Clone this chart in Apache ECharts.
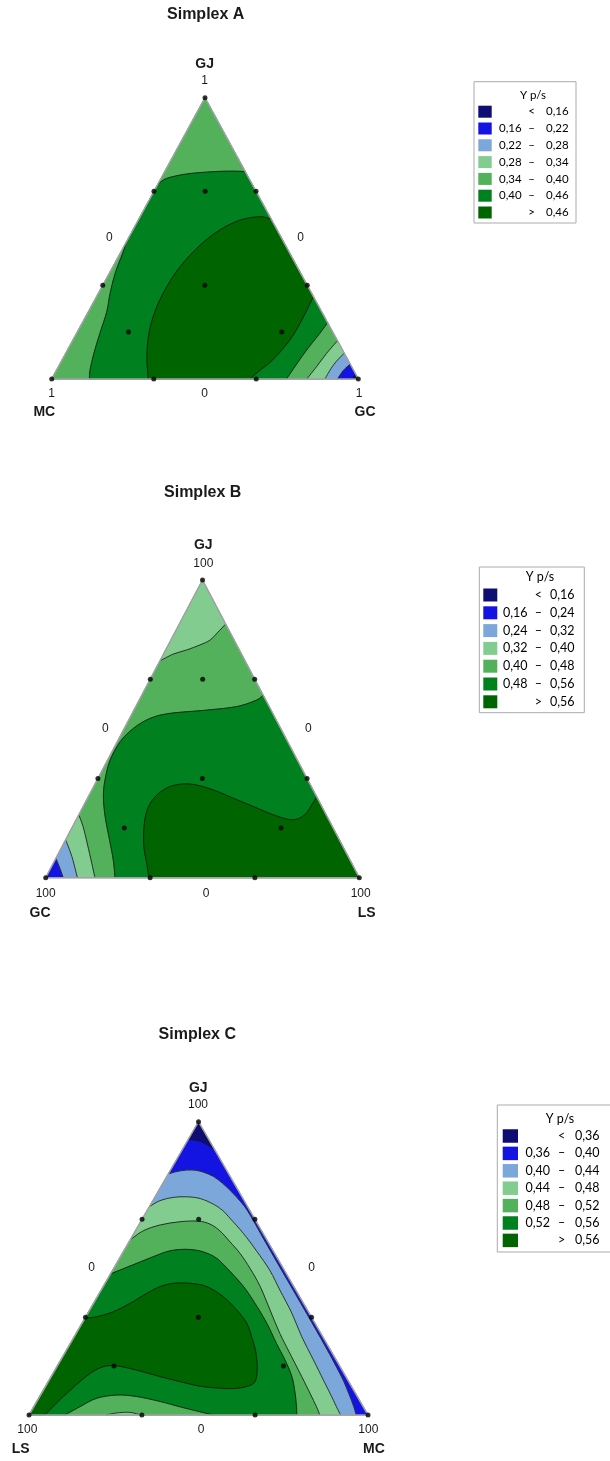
<!DOCTYPE html>
<html><head><meta charset="utf-8">
<script src="https://cdn.jsdelivr.net/npm/echarts@6.0.0/dist/echarts.min.js"></script>
<style>html,body{margin:0;padding:0;background:#fff}#c{width:610px;height:1461px}</style>
</head><body><div id="c"></div>
<script>
// ---------- data (mixture compositions as [GJ fraction, right-vertex fraction]) ----------
const bandColors = ['#0d0d72', '#1313e2', '#7ca7da', '#82cc90', '#53b05b', '#00801f', '#006500'];
const legendTitle = 'Y p/s';
const legendA = [['<','0,16'],['0,16','0,22'],['0,22','0,28'],['0,28','0,34'],['0,34','0,40'],['0,40','0,46'],['>','0,46']];
const legendB = [['<','0,16'],['0,16','0,24'],['0,24','0,32'],['0,32','0,40'],['0,40','0,48'],['0,48','0,56'],['>','0,56']];
const legendC = [['<','0,36'],['0,36','0,40'],['0,40','0,44'],['0,44','0,48'],['0,48','0,52'],['0,52','0,56'],['>','0,56']];
const titles = ['Simplex A', 'Simplex B', 'Simplex C'];
const vertexNamesA = ['GJ', 'MC', 'GC'];
const vertexNamesB = ['GJ', 'GC', 'LS'];
const vertexNamesC = ['GJ', 'LS', 'MC'];
const vertexTicksA = ['1', '1', '1'];
const vertexTicksBC = ['100', '100', '100'];
const midTick = '0';
const designPoints = [[1,0],[0.667,0],[0.333,0],[0,0],[0,0.333],[0,0.667],[0,1],[0.333,0.667],[0.667,0.333],
  [0.333,0.333],[0.667,0.167],[0.167,0.167],[0.167,0.667]];

// Simplex A contour lines
const A016 = [[0.018,0.982],[0,0.980]];
const A022 = [[0.053,0.947],[0.030,0.936],[0,0.932]];
const A028 = [[0.092,0.908],[0.050,0.894],[0,0.891]];
const A034 = [[0.136,0.864],[0.091,0.851],[0.044,0.842],[0,0.832]];
const A040right = [[0.200,0.800],[0.156,0.792],[0.103,0.780],[0.050,0.772],[0,0.766]];
const A040top = [[0.692,0],[0.713,0.018],[0.729,0.076],[0.737,0.158],[0.739,0.223],[0.737,0.263]];
const A040left = [[0.485,0],[0.447,0.008],[0.376,0.019],[0.305,0.038],[0.239,0.060],[0.162,0.076],[0.091,0.092],[0.032,0.109],[0,0.123]];
const A046a = [[0,0.315],[0.079,0.271],[0.162,0.236],[0.239,0.217],[0.316,0.211],[0.399,0.219],[0.476,0.246],[0.530,0.284],[0.565,0.332],[0.577,0.391],[0.568,0.432]];
const A046b = [[0.293,0.707],[0.257,0.709],[0.210,0.711],[0.156,0.710],[0.109,0.701],[0.062,0.684],[0.026,0.661],[0,0.647]];

// Simplex B contour lines
const B024 = [[0.065,0],[0.031,0.030],[0,0.056]];
const B032 = [[0.127,0],[0.071,0.048],[0,0.101]];
const B040low = [[0.211,0],[0.171,0.034],[0.115,0.075],[0.048,0.123],[0,0.157]];
const B040top = [[0.728,0],[0.751,0.031],[0.765,0.067],[0.782,0.101],[0.798,0.125],[0.823,0.136],[0.852,0.148]];
const B048 = [[0.614,0.386],[0.597,0.374],[0.575,0.322],[0.563,0.232],[0.552,0.120],[0.535,0.065],[0.502,0.029],[0.457,0.009],[0.395,0.008],[0.328,0.025],[0.272,0.048],[0.205,0.087],[0.127,0.140],[0.059,0.186],[0,0.221]];
const B056 = [[0,0.329],[0.048,0.298],[0.104,0.261],[0.171,0.228],[0.227,0.210],[0.272,0.213],[0.304,0.239],[0.315,0.282],[0.311,0.326],[0.295,0.387],[0.267,0.465],[0.239,0.543],[0.211,0.621],[0.196,0.676],[0.198,0.706],[0.216,0.722],[0.244,0.726],[0.272,0.728]];

// Simplex C contour lines
const C036 = [[0.940,0],[0.935,0.032],[0.926,0.056],[0.915,0.077],[0.906,0.094]];
const C040 = [[0.822,0],[0.830,0.021],[0.835,0.048],[0.834,0.078],[0.826,0.106],[0.813,0.138],[0.790,0.176],[0.761,0.217],[0.727,0.261],[0.685,0.308],[0.574,0.418],[0.460,0.532],[0.347,0.645],[0.233,0.758],[0.131,0.856],[0.074,0.906],[0.028,0.944],[0,0.965]];
const C044 = [[0.710,0],[0.731,0.021],[0.742,0.055],[0.744,0.093],[0.738,0.136],[0.719,0.184],[0.697,0.223],[0.668,0.261],[0.619,0.323],[0.559,0.392],[0.492,0.465],[0.426,0.527],[0.347,0.602],[0.267,0.671],[0.188,0.745],[0.119,0.809],[0.074,0.851],[0.028,0.893],[0,0.919]];
const C048 = [[0.597,0],[0.628,0.023],[0.648,0.063],[0.659,0.116],[0.661,0.168],[0.651,0.208],[0.628,0.249],[0.591,0.297],[0.551,0.347],[0.500,0.402],[0.438,0.463],[0.358,0.532],[0.278,0.601],[0.199,0.675],[0.131,0.739],[0.074,0.792],[0.028,0.834],[0,0.858]];
const C048b = [[0,0.227],[0.007,0.255],[0.009,0.293],[0,0.331]];
const C052top = [[0.481,0],[0.494,0.021],[0.517,0.059],[0.540,0.097],[0.557,0.128],[0.564,0.159],[0.564,0.198],[0.555,0.239],[0.534,0.287],[0.489,0.349],[0.438,0.414],[0.381,0.476],[0.313,0.545],[0.244,0.608],[0.188,0.661],[0.131,0.710],[0.074,0.748],[0.028,0.775],[0,0.790]];
const C052low = [[0,0.106],[0.028,0.136],[0.057,0.171],[0.068,0.225],[0.063,0.286],[0.046,0.364],[0.028,0.431],[0.011,0.499],[0,0.544]];
const C056 = [[0.330,0],[0.335,0.032],[0.352,0.073],[0.381,0.108],[0.415,0.140],[0.438,0.168],[0.449,0.201],[0.449,0.251],[0.438,0.305],[0.403,0.372],[0.358,0.434],[0.313,0.486],[0.267,0.523],[0.222,0.557],[0.176,0.585],[0.133,0.605],[0.110,0.609],[0.097,0.594],[0.090,0.558],[0.092,0.508],[0.098,0.456],[0.111,0.400],[0.131,0.321],[0.153,0.241],[0.168,0.171],[0.163,0.133],[0.133,0.104],[0.063,0.070],[0,0.047]];

// ---------- construction ----------
const TOP = [1,0], LEFT = [0,0], RIGHT = [0,1];
const rev = a => a.slice().reverse();
const K = bandColors;

// each region: list of parts; a part is a vertex [gj,rt] or a contour curve [[gj,rt],...]
const regionsA = [
  {parts:[LEFT,TOP,RIGHT], c:K[0]},
  {parts:[LEFT,TOP,A016], c:K[1]},
  {parts:[LEFT,TOP,A022], c:K[2]},
  {parts:[LEFT,TOP,A028], c:K[3]},
  {parts:[LEFT,TOP,A034], c:K[4]},
  {parts:[A040top,A040right,rev(A040left)], c:K[5]},
  {parts:[A046a,A046b], c:K[6]}
];
const linesA = [A016,A022,A028,A034,A040right,A040top,A040left,A046a,A046b];

const regionsB = [
  {parts:[LEFT,TOP,RIGHT], c:K[1]},
  {parts:[B024,RIGHT,TOP], c:K[2]},
  {parts:[B032,RIGHT,TOP], c:K[3]},
  {parts:[B040low,RIGHT,rev(B040top)], c:K[4]},
  {parts:[B048,RIGHT], c:K[5]},
  {parts:[B056,RIGHT], c:K[6]}
];
const linesB = [B024,B032,B040low,B040top,B048,B056];

const regionsC = [
  {parts:[LEFT,TOP,RIGHT], c:K[0]},
  {parts:[LEFT,C036,RIGHT], c:K[1]},
  {parts:[LEFT,C040], c:K[2]},
  {parts:[LEFT,C044], c:K[3]},
  {parts:[LEFT,C048], c:K[4]},
  {parts:[C048b], c:K[3]},
  {parts:[LEFT,C052top,rev(C052low)], c:K[5]},
  {parts:[LEFT,C056], c:K[6]}
];
const linesC = [C036,C040,C044,C048,C048b,C052top,C052low,C056];

const tern = p => [p[1] + p[0] / 2, p[0]];

const grids = [
  {left:51.7, top:97.7, width:306.6, height:281.3},
  {left:45.7, top:580, width:313.6, height:297.7},
  {left:29, top:1121.7, width:339, height:293.3}
];

const f2 = v => v.toFixed(2);
// smooth drawing of a curve through its read points (Catmull-Rom as cubic Bezier segments)
function curveD(px, move) {
  let d = (move ? 'M' : 'L') + f2(px[0][0]) + ' ' + f2(px[0][1]);
  for (let i = 0; i < px.length - 1; i++) {
    const p0 = px[Math.max(i - 1, 0)], p1 = px[i], p2 = px[i + 1], p3 = px[Math.min(i + 2, px.length - 1)];
    const c1x = p1[0] + (p2[0] - p0[0]) / 6, c1y = p1[1] + (p2[1] - p0[1]) / 6;
    const c2x = p2[0] - (p3[0] - p1[0]) / 6, c2y = p2[1] - (p3[1] - p1[1]) / 6;
    d += ' C' + f2(c1x) + ' ' + f2(c1y) + ' ' + f2(c2x) + ' ' + f2(c2y) + ' ' + f2(p2[0]) + ' ' + f2(p2[1]);
  }
  return d;
}
function regionD(parts, api) {
  let d = '';
  parts.forEach((part, k) => {
    if (Array.isArray(part[0])) {
      d += (k ? ' ' : '') + curveD(part.map(p => api.coord(tern(p))), k === 0);
    } else {
      const q = api.coord(tern(part));
      d += (k ? ' L' : 'M') + f2(q[0]) + ' ' + f2(q[1]);
    }
  });
  return d + ' Z';
}

function regionSeries(gi, regions) {
  return {type:'custom', xAxisIndex:gi, yAxisIndex:gi, silent:true, clip:false, z:1,
    data: regions.map((r,i)=>[0,0,i]),
    renderItem(params, api) {
      const r = regions[params.dataIndex];
      return {type:'path', shape:{pathData:regionD(r.parts, api)},
        style:{fill:r.c, stroke:r.c, lineWidth:0.4}};
    }};
}
function lineSeries(gi, lines) {
  return {type:'custom', xAxisIndex:gi, yAxisIndex:gi, silent:true, clip:false, z:2,
    data: lines.map((l,i)=>[0,0,i]),
    renderItem(params, api) {
      const l = lines[params.dataIndex];
      return {type:'path', shape:{pathData:curveD(l.map(p=>api.coord(tern(p))), true)},
        style:{fill:'none', stroke:'#111', lineWidth:0.8}};
    }};
}
function outlineSeries(gi) {
  return {type:'custom', xAxisIndex:gi, yAxisIndex:gi, silent:true, clip:false, z:3,
    data:[[0,0]],
    renderItem(params, api) {
      return {type:'polygon', shape:{points:[LEFT,TOP,RIGHT].map(p=>api.coord(tern(p)))},
        style:{fill:'none', stroke:'#a2a2a2', lineWidth:1.5}};
    }};
}
function pointSeries(gi) {
  return {type:'scatter', xAxisIndex:gi, yAxisIndex:gi, silent:true, z:4,
    symbolSize:5, itemStyle:{color:'#000'}, data:designPoints.map(tern)};
}

const FONT = 'Liberation Sans, Arial, sans-serif';
function txt(x, y, s, font, align, fill) {
  return {type:'text', x:x, y:y, silent:true,
    style:{text:s, font:font, fill:fill || '#1a1a1a', align:align || 'center', verticalAlign:'middle'}};
}
function legendGraphic(L, rows) {
  const els = [];
  els.push({type:'rect', silent:true, shape:{x:L.x, y:L.y, width:L.w, height:L.h},
    style:{fill:'#fff', stroke:'#ababab', lineWidth:1}});
  const f = L.fs + 'px Lato, "Open Sans", sans-serif';
  els.push(txt(L.tx, L.ty, legendTitle, f, 'center', '#000'));
  rows.forEach((r, i) => {
    const y = L.y0 + L.dy * i;
    els.push({type:'rect', silent:true, shape:{x:L.sx, y:y - L.sh/2, width:L.sw, height:L.sh},
      style:{fill:bandColors[i]}});
    if (r[0] === '<' || r[0] === '>') {
      els.push(txt(L.dash, y, r[0], f, 'center', '#000'));
    } else {
      els.push(txt(L.loR, y, r[0], f, 'right', '#000'));
      els.push(txt(L.dash, y, '\u2013', f, 'center', '#000'));
    }
    els.push(txt(L.hiL, y, r[1], f, 'left', '#000'));
  });
  return els;
}

function simplexLabels(pos, names, ticks, title) {
  const bold = 'bold 14px ' + FONT, reg = '12px ' + FONT;
  return [
    txt(pos.title[0], pos.title[1], title, 'bold 16px ' + FONT),
    txt(pos.top[0], pos.top[1], names[0], bold),
    txt(pos.topT[0], pos.topT[1], ticks[0], reg),
    txt(pos.l0[0], pos.l0[1], midTick, reg),
    txt(pos.r0[0], pos.r0[1], midTick, reg),
    txt(pos.b0[0], pos.b0[1], midTick, reg),
    txt(pos.lT[0], pos.lT[1], ticks[1], reg),
    txt(pos.rT[0], pos.rT[1], ticks[2], reg),
    txt(pos.lN[0], pos.lN[1], names[1], bold),
    txt(pos.rN[0], pos.rN[1], names[2], bold)
  ];
}

const posA = {title:[205.7,15], top:[204.7,64.3], topT:[204.7,81], l0:[109.3,237.3], r0:[300.7,237.3], b0:[204.7,393.7], lT:[51.7,393.7], rT:[359,393.7], lN:[44.3,412], rN:[365,412]};
const posB = {title:[202.7,492.7], top:[203.3,545], topT:[203.3,563.3], l0:[105.3,728.3], r0:[308.3,728.3], b0:[206,893.3], lT:[45.7,893.3], rT:[360.7,893.3], lN:[40,912.7], rN:[366.7,912.7]};
const posC = {title:[197.3,1035], top:[198.3,1088.3], topT:[198,1105], l0:[91.7,1267.3], r0:[311.7,1267.3], b0:[201,1430], lT:[27.3,1430], rT:[368.3,1430], lN:[20.7,1449], rN:[374,1449]};

const legA = {x:474, y:81.7, w:102, h:141.3, tx:533, ty:95, sx:478.3, sw:13.4, sh:12, y0:111.7, dy:16.8, loR:521.7, dash:531.5, hiL:546, fs:11.5};
const legB = {x:479.3, y:567, w:105, h:145.7, tx:540, ty:576.7, sx:483.3, sw:14, sh:13, y0:595, dy:17.8, loR:527.5, dash:538.3, hiL:550, fs:12.5};
const legC = {x:497.3, y:1105, w:116, h:147, tx:560, ty:1119, sx:502.7, sw:15.3, sh:13.5, y0:1136, dy:17.4, loR:550, dash:561.7, hiL:575, fs:12.5};

const axisOff = gi => ({type:'value', min:0, max:1, show:false, gridIndex:gi});

const chart = echarts.init(document.getElementById('c'), null, {renderer:'canvas', width:610, height:1461});
chart.setOption({
  animation:false,
  backgroundColor:'#fff',
  grid: grids,
  xAxis: [axisOff(0), axisOff(1), axisOff(2)],
  yAxis: [axisOff(0), axisOff(1), axisOff(2)],
  series: [
    regionSeries(0, regionsA), lineSeries(0, linesA), outlineSeries(0), pointSeries(0),
    regionSeries(1, regionsB), lineSeries(1, linesB), outlineSeries(1), pointSeries(1),
    regionSeries(2, regionsC), lineSeries(2, linesC), outlineSeries(2), pointSeries(2)
  ],
  graphic: [
    ...simplexLabels(posA, vertexNamesA, vertexTicksA, titles[0]),
    ...simplexLabels(posB, vertexNamesB, vertexTicksBC, titles[1]),
    ...simplexLabels(posC, vertexNamesC, vertexTicksBC, titles[2]),
    ...legendGraphic(legA, legendA),
    ...legendGraphic(legB, legendB),
    ...legendGraphic(legC, legendC)
  ]
});
</script>
</body></html>
